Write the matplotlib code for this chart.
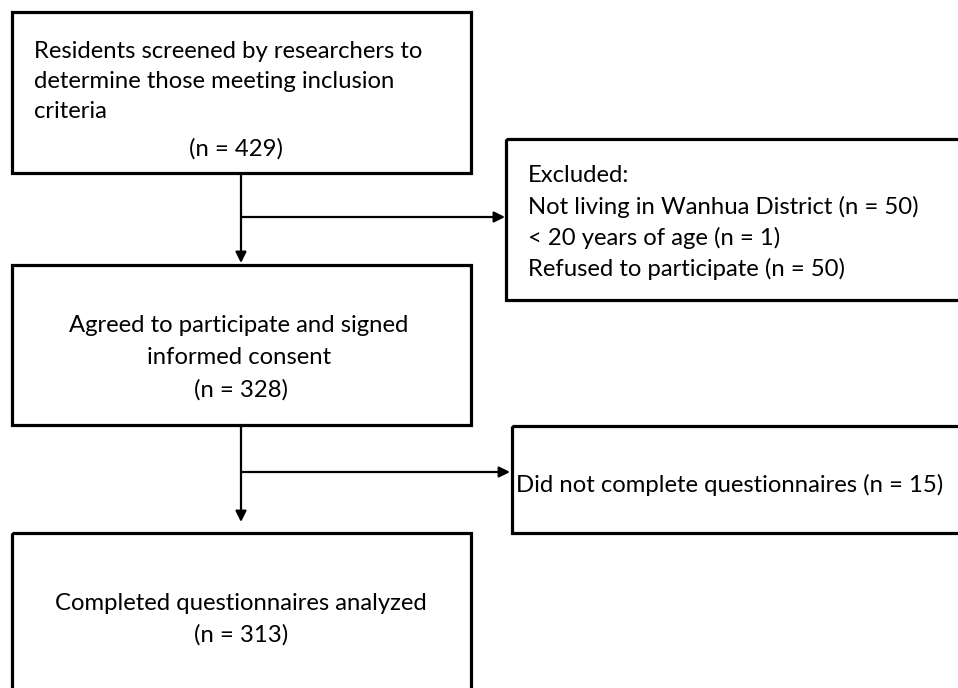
import matplotlib
matplotlib.use("Agg")
import matplotlib.pyplot as plt
from matplotlib.patches import Rectangle

# box texts
screened_lines = ["Residents screened by researchers to",
                  "determine those meeting inclusion",
                  "criteria"]
screened_n = 429
agreed_lines = ["Agreed to participate and signed", "informed consent"]
agreed_n = 328
excluded_title = "Excluded:"
excluded_reasons = ["Not living in Wanhua District", "< 20 years of age", "Refused to participate"]
excluded_n = [50, 1, 50]
incomplete_label = "Did not complete questionnaires"
incomplete_n = 15
analyzed_label = "Completed questionnaires analyzed"
analyzed_n = 313

W, H = 958, 688
fig = plt.figure(figsize=(W / 100, H / 100), dpi=100)
ax = fig.add_axes([0, 0, 1, 1])
ax.set_xlim(0, W)
ax.set_ylim(H, 0)
ax.axis("off")

FONT = "Lato"
FS = 17.2


def box(x0, y0, x1, y1):
    ax.add_patch(Rectangle((x0, y0), x1 - x0, y1 - y0, fill=False,
                           edgecolor="black", linewidth=2.3, clip_on=False))


def txt(x, y, s, ha="left"):
    ax.text(x, y, s, ha=ha, va="center", fontsize=FS, family=FONT, color="black")


def arrow(x0, y0, x1, y1):
    ax.annotate("", xy=(x1, y1), xytext=(x0, y0),
                arrowprops=dict(arrowstyle="-|>", color="black", lw=1.6,
                                mutation_scale=16, shrinkA=0, shrinkB=0))


# boxes
box(12, 12, 471, 173)
box(12, 265, 471, 425)
box(506, 139, 975, 300)
box(512, 426, 975, 533)
box(12, 533, 471, 700)

# box 1
for i, s in enumerate(screened_lines):
    txt(34, 51 + i * 30.5, s)
txt(236, 149, f"(n = {screened_n})", ha="center")

# box 2
for i, s in enumerate(agreed_lines):
    txt(239, 326 + i * 31.5, s, ha="center")
txt(241, 390, f"(n = {agreed_n})", ha="center")

# excluded
txt(528, 176, excluded_title)
for i, (s, n) in enumerate(zip(excluded_reasons, excluded_n)):
    txt(528, 176 + (i + 1) * 31, f"{s} (n = {n})")

# incomplete
txt(516, 485, f"{incomplete_label} (n = {incomplete_n})")

# analyzed
txt(241, 604, analyzed_label, ha="center")
txt(241, 635, f"(n = {analyzed_n})", ha="center")

# connectors
arrow(241, 173, 241, 263)
arrow(241, 217, 505, 217)
arrow(241, 425, 241, 522)
arrow(241, 472, 510, 472)

fig.savefig("out.png", dpi=100)
